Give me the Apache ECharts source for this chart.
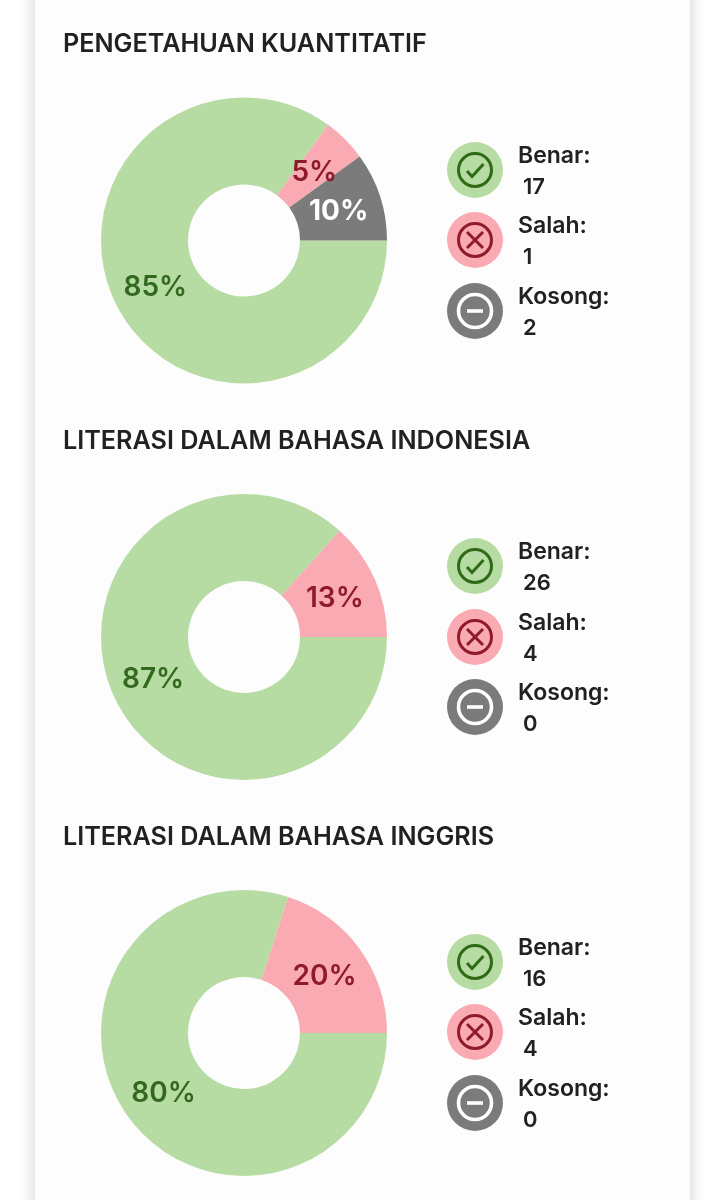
<!DOCTYPE html>
<html><head><meta charset="utf-8">
<style>html,body{margin:0;padding:0;background:#fff}#c{width:724px;height:1200px}</style>
<script src="https://cdn.jsdelivr.net/npm/echarts@6/dist/echarts.min.js"></script>
</head><body><div id="c"></div>
<script>
const sections = ['PENGETAHUAN KUANTITATIF','LITERASI DALAM BAHASA INDONESIA','LITERASI DALAM BAHASA INGGRIS'];
const answerTypes = ['Benar','Salah','Kosong'];
const benar = [17,26,16];
const salah = [1,4,4];
const kosong = [2,0,0];

const font = 'Inter, "Noto Sans", sans-serif';
const fills = ['#b7dca3','#f9aab3','#7b7b7b'];
const inks = ['#33691e','#8f1a2b','#ffffff'];
const iconInks = ['#2f6a17','#8f1a2b','#ffffff'];
const titleY = [44,441,837];
const cy = [240.5,637,1033];
const legendY = [[170,240,311],[566,637,707],[962,1032,1103]];

const chart = echarts.init(document.getElementById('c'),null,{renderer:'canvas'});
const series=[], titles=[], graphic=[];
graphic.push({type:'rect',z:-10,shape:{x:35,y:-60,width:655,height:1320},
  style:{fill:'#fdfdfd',shadowBlur:16,shadowColor:'rgba(0,0,0,0.2)'},silent:true});

function icon(k,x,y){
  const ink=iconInks[k], ch=[];
  ch.push({type:'circle',shape:{cx:0,cy:0,r:28},style:{fill:fills[k]}});
  ch.push({type:'circle',shape:{cx:0,cy:0,r:16.5},style:{fill:null,stroke:ink,lineWidth:k==2?3.6:3}});
  if(k==0) ch.push({type:'polyline',shape:{points:[[-8,1],[-3,6.5],[8.5,-6]]},style:{fill:null,stroke:ink,lineWidth:3}});
  if(k==1){
    ch.push({type:'line',shape:{x1:-8,y1:-8,x2:8,y2:8},style:{stroke:ink,lineWidth:3}});
    ch.push({type:'line',shape:{x1:8,y1:-8,x2:-8,y2:8},style:{stroke:ink,lineWidth:3}});
  }
  if(k==2) ch.push({type:'line',shape:{x1:-8,y1:0,x2:8,y2:0},style:{stroke:ink,lineWidth:3.6}});
  return {type:'group',x:x,y:y,children:ch,silent:true};
}

sections.forEach((name,i)=>{
  const vals=[benar[i],salah[i],kosong[i]];
  const total=vals[0]+vals[1]+vals[2];
  let acc=0;
  const data=answerTypes.map((t,k)=>{
    const a=(acc+vals[k]/2)/total*2*Math.PI; acc+=vals[k];
    return {name:t,value:vals[k],itemStyle:{color:fills[k]},
      label:{color:inks[k],fontWeight:k==2?700:600,
        offset:[-3*Math.cos(a),-3*Math.sin(a)+2]}};
  });
  titles.push({text:name,left:63,top:titleY[i]-14,padding:0,
    textStyle:{fontFamily:font,fontSize:25.2,fontWeight:600,color:'#212121',lineHeight:28}});
  series.push({type:'pie',center:[244,cy[i]],radius:[56,143],startAngle:0,clockwise:true,
    animation:false,silent:true,avoidLabelOverlap:false,data:data,
    label:{show:true,position:'inside',fontFamily:font,fontSize:28,
      formatter:p=>p.value>0?Math.round(p.percent)+'%':''},
    labelLine:{show:false}});
  answerTypes.forEach((t,k)=>{
    const y=legendY[i][k];
    graphic.push(icon(k,475,y));
    graphic.push({type:'text',x:518,y:y-13.5,silent:true,style:{text:t+':',fill:'#212121',
      font:'600 23px '+font,textAlign:'left',textVerticalAlign:'middle'}});
    graphic.push({type:'text',x:523,y:y+17.5,silent:true,style:{text:String(vals[k]),fill:'#212121',
      font:'600 22px '+font,textAlign:'left',textVerticalAlign:'middle'}});
  });
});
chart.setOption({animation:false,backgroundColor:'#ffffff',title:titles,series:series,graphic:graphic});
</script></body></html>
